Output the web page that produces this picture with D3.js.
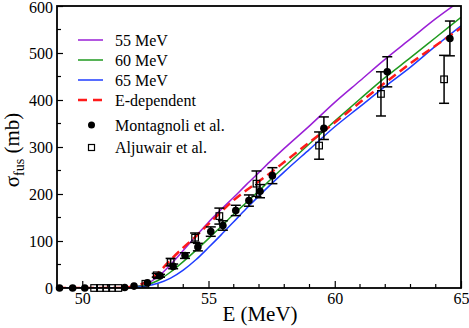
<html>
  <head>
    <script src="https://d3js.org/d3.v7.min.js"></script>
    <style>
      body { margin: 0; background: #fff; }
    </style>
  </head>

  <body>
    <div id="vis"></div>
  </body>

  <script>
    // curve energies (MeV) and cross sections (mb)
    var energies = [49, 50, 51, 51.5, 52, 52.5, 53, 53.5, 54, 54.5, 55, 55.5, 56, 56.5, 57, 57.5, 58, 59, 60, 61, 62, 63, 64, 65]
    var sig55 = [0, 0, 0, 0, 2, 8, 24, 50, 80, 110, 140, 167, 193, 220, 246, 272, 297, 345, 395, 441, 487, 530, 573, 612]
    var sig60 = [0, 0, 0, 0, 2, 6, 16, 34, 56, 80, 105, 131, 157, 182, 207, 233, 258, 307, 355, 402, 448, 490, 533, 576]
    var sig65 = [0, 0, 0, 0, 1, 4, 10, 21, 38, 60, 86, 113, 141, 169, 196, 222, 247, 295, 343, 386, 429, 470, 515, 558]
    var sigEdep = [0, 0, 0, 0, 3, 12, 32, 60, 86, 110, 136, 162, 187, 208, 227, 247, 268, 310, 352, 395, 437, 478, 516, 553]

    // Montagnoli et al.
    var montE = [49.1, 49.62, 50.1, 51.68, 52.05, 52.58, 53.08, 53.6, 54.07, 54.58, 55.09, 55.57, 56.08, 56.6, 57.04, 57.53, 59.57, 62.08, 64.56]
    var montS = [0, 0, 0, 1, 4, 11, 26, 46, 69, 87, 120, 133, 165, 186, 206, 239, 340, 460, 531]
    var montErr = [0, 0, 0, 0, 1, 2, 3, 5, 6, 8, 10, 10, 11, 12, 14, 17, 24, 32, 37]

    // Aljuwair et al.
    var aljE = [50.47, 50.7, 50.95, 51.18, 51.43, 52.5, 52.95, 53.5, 54.47, 55.43, 56.9, 59.38, 61.83, 64.33]
    var aljS = [0, 0, 0, 0, 0, 9, 27, 55, 107, 153, 222, 303, 413, 444]
    var aljErr = [0, 0, 0, 0, 0, 2, 4, 8, 10, 17, 27, 29, 47, 51]

    var xTicks = [50, 55, 60, 65]
    var yTicks = [0, 100, 200, 300, 400, 500, 600]

    var curves = [
      {name: "55 MeV", vals: sig55, color: "#9a1fd6", dash: null, w: 1.5},
      {name: "60 MeV", vals: sig60, color: "#1f9a1f", dash: null, w: 1.5},
      {name: "65 MeV", vals: sig65, color: "#1f3dff", dash: null, w: 1.5},
      {name: "E-dependent", vals: sigEdep, color: "#ff1a1a", dash: "9,5", w: 2.5}
    ]

    var margin = {top: 6, right: 8, bottom: 40, left: 57}
    var W = 469, H = 328
    var width = W - margin.left - margin.right
    var height = H - margin.top - margin.bottom

    var root = d3.select("#vis")
      .append("svg")
      .attr("width", W)
      .attr("height", H)
    var svg = root.append("g")
      .attr("transform", "translate(" + margin.left + "," + margin.top + ")")

    var x = d3.scaleLinear().domain([49, 65]).range([0, width])
    var y = d3.scaleLinear().domain([0, 600]).range([height, 0])

    svg.append("clipPath").attr("id", "clip")
      .append("rect").attr("width", width).attr("height", height)

    // minor ticks
    var minorX = d3.range(50, 65, 1).filter(function(d) { return d % 5 != 0 })
    var minorY = d3.range(50, 600, 100)
    svg.append("g").selectAll("line").data(minorX).enter().append("line")
      .attr("x1", function(d) { return x(d) }).attr("x2", function(d) { return x(d) })
      .attr("y1", height).attr("y2", height - 4)
      .attr("stroke", "black").attr("stroke-width", 1.2)
    svg.append("g").selectAll("line").data(minorY).enter().append("line")
      .attr("x1", 0).attr("x2", 4)
      .attr("y1", function(d) { return y(d) }).attr("y2", function(d) { return y(d) })
      .attr("stroke", "black").attr("stroke-width", 1.2)

    // x axis
    var gx = svg.append("g")
      .attr("transform", "translate(0," + height + ")")
      .call(d3.axisBottom(x).tickValues(xTicks).tickSize(-7).tickPadding(5))
    gx.select(".domain").remove()
    gx.selectAll("line").attr("stroke-width", 1.2)
    gx.selectAll("text").attr("fill", "black").style("font-size", "16px")

    // y axis
    var gy = svg.append("g")
      .call(d3.axisLeft(y).tickValues(yTicks).tickSize(-6).tickPadding(4))
    gy.select(".domain").remove()
    gy.selectAll("line").attr("stroke-width", 1.2)
    gy.selectAll("text").attr("fill", "black").style("font-size", "16px")
    gy.selectAll("text").filter(function(d) { return d == 600 }).attr("dy", "0.4em")

    // curves
    var plot = svg.append("g").attr("clip-path", "url(#clip)")
    curves.forEach(function(c) {
      var line = d3.line()
        .x(function(d, i) { return x(energies[i]) })
        .y(function(d) { return y(d) })
        .curve(d3.curveMonotoneX)
      plot.append("path")
        .datum(c.vals)
        .attr("d", line)
        .attr("fill", "none")
        .attr("stroke", c.color)
        .attr("stroke-width", c.w)
        .attr("stroke-dasharray", c.dash)
    })

    // error bars
    function errorBars(E, S, err) {
      var g = svg.append("g")
      E.forEach(function(e, i) {
        if (err[i] < 3) return
        var cx = x(e)
        g.append("line").attr("x1", cx).attr("x2", cx)
          .attr("y1", y(S[i] - err[i])).attr("y2", y(S[i] + err[i]))
          .attr("stroke", "black").attr("stroke-width", 1.5)
        ;[S[i] - err[i], S[i] + err[i]].forEach(function(v) {
          g.append("line").attr("x1", cx - 5).attr("x2", cx + 5)
            .attr("y1", y(v)).attr("y2", y(v))
            .attr("stroke", "black").attr("stroke-width", 1.5)
        })
      })
    }
    errorBars(aljE, aljS, aljErr)
    errorBars(montE, montS, montErr)

    // Aljuwair squares
    svg.append("g").selectAll("rect").data(aljE).enter().append("rect")
      .attr("x", function(d) { return x(d) - 3.3 })
      .attr("y", function(d, i) { return y(aljS[i]) - 3.3 })
      .attr("width", 6.6).attr("height", 6.6)
      .attr("fill", "none").attr("stroke", "black").attr("stroke-width", 1.2)

    // Montagnoli circles
    svg.append("g").selectAll("circle").data(montE).enter().append("circle")
      .attr("cx", function(d) { return x(d) })
      .attr("cy", function(d, i) { return y(montS[i]) })
      .attr("r", 3.8)
      .attr("fill", "black")

    // frame
    svg.append("rect")
      .attr("width", width).attr("height", height)
      .attr("fill", "none").attr("stroke", "black").attr("stroke-width", 1.8)

    // legend
    var lg = svg.append("g").attr("transform", "translate(21,0)")
    curves.forEach(function(c, i) {
      var ly = 34 + i * 20
      lg.append("line").attr("x1", 0).attr("x2", 25).attr("y1", ly).attr("y2", ly)
        .attr("stroke", c.color).attr("stroke-width", c.w)
        .attr("stroke-dasharray", c.dash ? "9,6" : null)
      lg.append("text").attr("x", 37).attr("y", ly + 6).style("font-size", "16px").text(c.name)
    })
    lg.append("circle").attr("cx", 13.5).attr("cy", 119).attr("r", 3.5).attr("fill", "black")
    lg.append("text").attr("x", 37).attr("y", 125).style("font-size", "16px").text("Montagnoli et al.")
    lg.append("rect").attr("x", 10.5).attr("y", 138.5).attr("width", 6).attr("height", 6)
      .attr("fill", "none").attr("stroke", "black").attr("stroke-width", 1.2)
    lg.append("text").attr("x", 37).attr("y", 147).style("font-size", "16px").text("Aljuwair et al.")

    // axis titles
    svg.append("text")
      .attr("x", width / 2 + 1).attr("y", height + 33)
      .attr("text-anchor", "middle").style("font-size", "21px")
      .text("E (MeV)")

    var yl = svg.append("text")
      .attr("transform", "translate(-38," + (height / 2 + 3) + ") rotate(-90)")
      .attr("text-anchor", "middle").style("font-size", "21px")
    yl.append("tspan").text("σ")
    yl.append("tspan").attr("dy", 5).style("font-size", "14px").text("fus")
    yl.append("tspan").attr("dy", -5).text(" (mb)")

    // serif everywhere
    root.selectAll("text").style("font-family", "Liberation Serif")
  </script>
</html>
